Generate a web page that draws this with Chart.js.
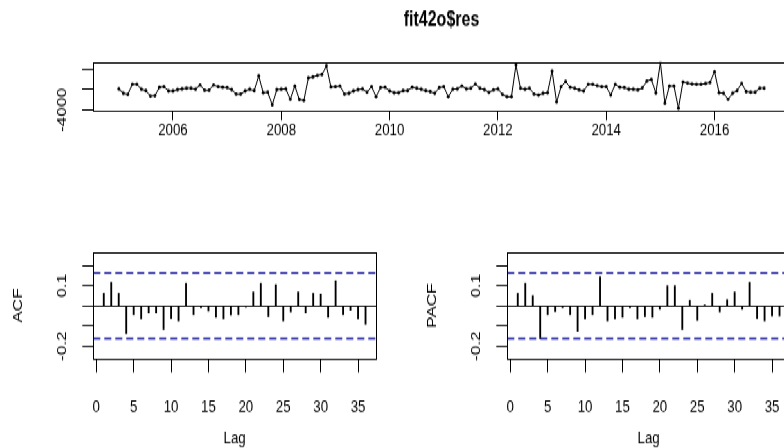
<!DOCTYPE html>
<html>
<head>
<meta charset="utf-8">
<script src="https://cdn.jsdelivr.net/npm/chart.js@4.4.1/dist/chart.umd.min.js"></script>
<style>
  html, body { margin: 0; padding: 0; background: #fff; }
  #fig { position: relative; width: 784px; height: 448px; overflow: hidden; background: #fff; }
  /* the figure is laid out on a short stage that is stretched vertically */
  #stage { position: absolute; left: 0; top: 0; width: 828px; height: 345px;
           transform: scaleY(1.3); transform-origin: 0 0; }
  #stage canvas { position: absolute; }
</style>
</head>
<body>
<div id="fig">
  <div id="stage">
    <canvas id="ts" width="828" height="116" style="left:0;top:0;width:828px;height:116px"></canvas>
    <canvas id="acf" width="414" height="191" style="left:0;top:153.85px;width:414px;height:191px"></canvas>
    <canvas id="pacf" width="414" height="191" style="left:414px;top:153.85px;width:414px;height:191px"></canvas>
  </div>
</div>
<script>
// Monthly residual series, Jan 2005 - Dec 2016
const startYear = 2005;
const residuals = [
  140, -710, -910, 1060, 1060, 80, -200, -1240, -1180, 470, 590, -260,
  -260, 0, 140, 280, 280, 80, 930, -120, -120, 930, 590, 470,
  390, 0, -850, -850, -260, 80, -200, 2700, -590, -510, -3010, 0,
  80, 140, -1890, 730, -1930, -2130, 2300, 2500, 2800, 2960, 4670, 530,
  590, 730, -850, -710, -260, 0, 140, -510, 590, -1380, 390, 470,
  -260, -590, -590, -200, -200, 470, 280, 80, -200, -390, -710, 390,
  590, -1380, 80, 140, 730, 140, 280, 1120, 280, 0, -550, -60,
  140, -910, -1380, -1380, 4870, 280, 80, 280, -850, -1040, -710, -590,
  3680, -2420, 590, 1620, 470, 280, -60, -260, 1060, 1060, 790, 590,
  590, -1040, 1060, 470, 390, 80, 80, -60, 330, 1710, 2010, -650,
  5400, -2680, 730, 730, -3660, 1520, 1320, 1120, 1060, 1060, 1220, 1420,
  3550, -590, -710, -1890, -710, -200, 1260, -390, -510, -510, 280, 280
];
const yearTicks = [2006, 2008, 2010, 2012, 2014, 2016];
const residualTicks = [-4000, -2000, 0, 2000, 4000];
const residualLabels = [-4000];

// Autocorrelations of the residuals, lags 1..36
const lags = [1, 2, 3, 4, 5, 6, 7, 8, 9, 10, 11, 12, 13, 14, 15, 16, 17, 18,
              19, 20, 21, 22, 23, 24, 25, 26, 27, 28, 29, 30, 31, 32, 33, 34, 35, 36];
const acfValues = [
  0.063, 0.117, 0.063, -0.138, -0.042, -0.063, -0.035, -0.035, -0.117, -0.062, -0.075, 0.112,
  -0.042, -0.008, -0.025, -0.055, -0.063, -0.045, -0.042, -0.005, 0.070, 0.112, -0.052, 0.105,
  -0.075, -0.030, 0.070, -0.035, 0.063, 0.058, -0.055, 0.125, -0.042, -0.022, -0.063, -0.092
];
const pacfValues = [
  0.063, 0.112, 0.050, -0.162, -0.042, -0.028, -0.008, -0.042, -0.125, -0.063, -0.042, 0.145,
  -0.075, -0.063, -0.055, -0.008, -0.063, -0.052, -0.055, -0.017, 0.100, 0.100, -0.117, 0.028,
  -0.072, 0.005, 0.063, -0.030, 0.030, 0.070, -0.017, 0.117, -0.062, -0.075, -0.050, -0.050
];
const lagTicks = [0, 5, 10, 15, 20, 25, 30, 35];
const corTicks = [-0.2, -0.1, 0, 0.1, 0.2];
const corLabels = [0.1, -0.2];
const nObs = residuals.length;

const FONT = "'Liberation Sans', Arial, sans-serif";
const FS = 13.3;
const INK = '#000';
const CI_BLUE = '#1a1a9c';

// R-style box around the plot region
const framePlugin = {
  id: 'frame',
  afterDraw(chart) {
    const a = chart.chartArea, ctx = chart.ctx;
    ctx.save();
    ctx.strokeStyle = INK;
    ctx.lineWidth = 1;
    ctx.strokeRect(Math.round(a.left) + 0.5, Math.round(a.top) + 0.5,
                   Math.round(a.right - a.left), Math.round(a.bottom - a.top));
    ctx.restore();
  }
};

// y tick labels written parallel to the axis
const sideLabelPlugin = {
  id: 'sideLabels',
  afterDraw(chart, args, opts) {
    if (!opts || !opts.values) return;
    const ys = chart.scales.y, ctx = chart.ctx;
    ctx.save();
    ctx.fillStyle = INK;
    ctx.font = opts.font;
    ctx.textAlign = 'center';
    ctx.textBaseline = 'middle';
    opts.values.forEach(v => {
      const y = ys.getPixelForValue(v);
      ctx.save();
      ctx.translate(chart.chartArea.left - opts.offset, y);
      ctx.rotate(-Math.PI / 2);
      ctx.fillText(String(v), 0, 0);
      ctx.restore();
    });
    ctx.restore();
  }
};

const pad4 = (lo, hi) => { const d = (hi - lo) * 0.04; return [lo - d, hi + d]; };

// ---- time series panel ----
const tsTimes = residuals.map((_, i) => startYear + i / 12);
const [tMin, tMax] = pad4(tsTimes[0], tsTimes[tsTimes.length - 1]);

new Chart(document.getElementById('ts'), {
  type: 'line',
  data: {
    datasets: [{
      data: residuals.map((v, i) => ({ x: tsTimes[i], y: v })),
      borderColor: INK,
      borderWidth: 1,
      pointRadius: 1.4,
      pointBackgroundColor: INK,
      pointBorderWidth: 0,
      tension: 0
    }]
  },
  options: {
    responsive: false,
    animation: false,
    devicePixelRatio: 1,
    layout: { padding: { top: 0, right: 38, left: 0, bottom: 0 } },
    plugins: {
      legend: { display: false },
      tooltip: { enabled: false },
      title: {
        display: true, text: 'fit42o$res', fullSize: false, color: INK,
        font: { family: FONT, size: 16, weight: 'bold' },
        padding: { top: 5.8, bottom: 22.7 }
      },
      sideLabels: { values: residualLabels, offset: 31, font: FS + 'px ' + FONT }
    },
    scales: {
      x: {
        type: 'linear', min: tMin, max: tMax,
        afterBuildTicks: s => { s.ticks = yearTicks.map(v => ({ value: v })); },
        afterFit: s => { s.height = 31.2; },
        grid: { drawOnChartArea: false, offset: false, tickLength: 7.7, color: INK, tickColor: INK },
        border: { display: false },
        ticks: { autoSkip: false, maxRotation: 0, padding: 0, color: INK,
                 font: { family: FONT, size: FS }, callback: v => String(v) }
      },
      y: {
        type: 'linear', min: -4058, max: 5457,
        afterBuildTicks: s => { s.ticks = residualTicks.map(v => ({ value: v })); },
        afterFit: s => { s.width = 93; },
        grid: { drawOnChartArea: false, tickLength: 11, color: INK, tickColor: INK },
        border: { display: false },
        ticks: { callback: () => '' }
      }
    }
  },
  plugins: [framePlugin, sideLabelPlugin]
});

// ---- correlogram panels ----
const [lagMin, lagMax] = pad4(lags[0], lags[lags.length - 1]);
const ciBound = 1.96 / Math.sqrt(nObs);

function correlogram(canvasId, values, yTitle) {
  return new Chart(document.getElementById(canvasId), {
    type: 'bar',
    data: {
      datasets: [
        {
          type: 'bar',
          data: values.map((v, i) => ({ x: lags[i], y: v })),
          backgroundColor: INK,
          borderWidth: 0,
          barThickness: 1.2,
          order: 2
        },
        {
          type: 'line',
          data: [{ x: lagMin, y: ciBound }, { x: lagMax, y: ciBound }],
          borderColor: CI_BLUE, borderWidth: 1.4, borderDash: [7, 4],
          pointRadius: 0, order: 1
        },
        {
          type: 'line',
          data: [{ x: lagMin, y: -ciBound }, { x: lagMax, y: -ciBound }],
          borderColor: CI_BLUE, borderWidth: 1.4, borderDash: [7, 4],
          pointRadius: 0, order: 1
        }
      ]
    },
    options: {
      responsive: false,
      animation: false,
      devicePixelRatio: 1,
      layout: { padding: { top: 40.2, right: 38, left: 0, bottom: 0 } },
      plugins: {
        legend: { display: false },
        tooltip: { enabled: false },
        sideLabels: { values: corLabels, offset: 31, font: FS + 'px ' + FONT }
      },
      scales: {
        x: {
          type: 'linear', min: lagMin, max: lagMax, offset: false,
          afterBuildTicks: s => { s.ticks = lagTicks.map(v => ({ value: v })); },
          afterFit: s => { s.height = 69.2; },
          grid: { drawOnChartArea: false, offset: false, tickLength: 10.8, color: INK, tickColor: INK },
          border: { display: false },
          ticks: { autoSkip: false, maxRotation: 0, padding: 18.6, color: INK,
                   font: { family: FONT, size: FS }, callback: v => String(v) },
          title: { display: true, text: 'Lag', color: INK,
                   font: { family: FONT, size: FS }, padding: { top: 0, bottom: 0 } }
        },
        y: {
          type: 'linear', min: -0.262, max: 0.266,
          afterBuildTicks: s => { s.ticks = corTicks.map(v => ({ value: v })); },
          afterFit: s => { s.width = 93.3; },
          grid: {
            drawOnChartArea: true, offset: false, tickLength: 11, tickColor: INK,
            color: c => (c.tick && Math.abs(c.tick.value) < 1e-9) ? INK : 'rgba(0,0,0,0)'
          },
          border: { display: false },
          ticks: { callback: () => '' },
          title: { display: true, text: yTitle, color: INK,
                   font: { family: FONT, size: FS }, padding: { top: 10, bottom: 0 } }
        }
      }
    },
    plugins: [framePlugin, sideLabelPlugin]
  });
}

correlogram('acf', acfValues, 'ACF');
correlogram('pacf', pacfValues, 'PACF');
</script>
</body>
</html>
